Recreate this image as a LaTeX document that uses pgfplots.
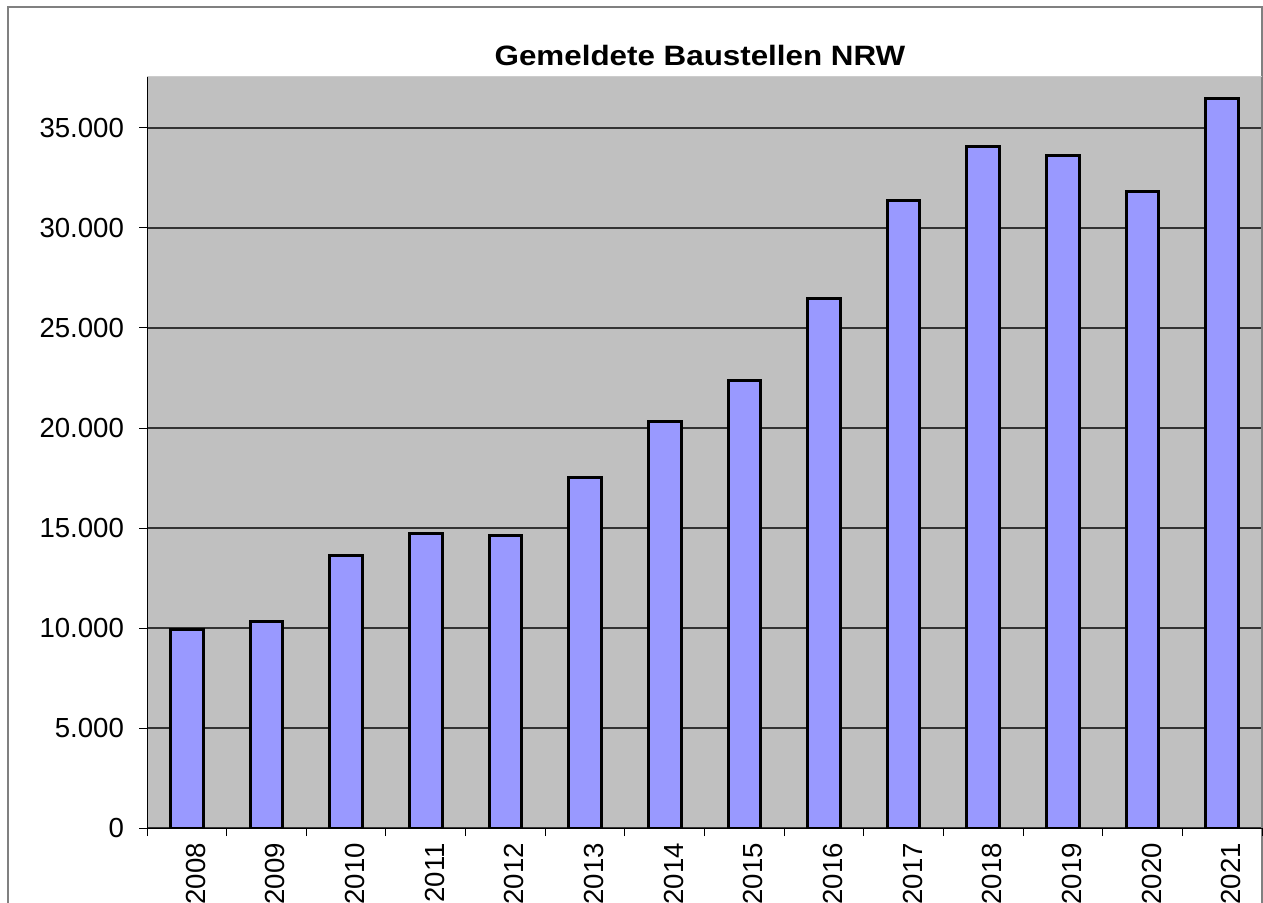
\documentclass[border=0pt]{standalone}
\usepackage{fontspec}
\setmainfont{Liberation Sans}
\usepackage{pgfplots}
\pgfplotsset{compat=1.18}
\definecolor{plotbg}{HTML}{C0C0C0}
\definecolor{barfill}{HTML}{9999FF}
\definecolor{framegray}{HTML}{808080}
\begin{document}
\begin{tikzpicture}
% outer chart frame
\draw[framegray, line width=0.6pt] (4pt,-470pt) -- (4pt,-3.5pt) -- (631pt,-3.5pt) -- (631pt,-470pt);
\node[anchor=base, inner sep=0pt, font=\fontsize{14}{16}\selectfont\bfseries] at (350pt,-33pt) {\scalebox{1.12}[1]{Gemeldete Baustellen NRW}};
\begin{axis}[
  at={(73.5pt,-414pt)}, anchor=south west,
  width=557.5pt, height=375.5pt, scale only axis,
  xmin=-0.5, xmax=13.5, ymin=0, ymax=37550,
  ybar, bar width=0.41,
  axis x line*=bottom, axis y line*=left,
  axis line style={-, black, line width=0.5pt},
  axis background/.style={fill=plotbg},
  xtick={0,...,13},
  xticklabels={2008,2009,2010,2011,2012,2013,2014,2015,2016,2017,2018,2019,2020,2021},
  minor xtick={-0.5,0.5,...,13.5},
  major x tick style={draw=none},
  minor tick length=4pt, major tick length=4pt,
  tick align=outside,
  tick style={black, line width=0.5pt},
  ytick={0,5000,...,35000},
  scaled y ticks=false,
  ymajorgrids,
  grid style={black!80, line width=0.6pt},
  /pgf/number format/assume math mode=true,
  /pgf/number format/fixed,
  /pgf/number format/1000 sep={.},
  ticklabel style={font=\fontsize{13.8}{16}\selectfont},
  xticklabel style={rotate=90, anchor=east, yshift=-4.5pt},
  yticklabel style={anchor=east, xshift=-4pt},
]
\addplot[fill=barfill, draw=black, line width=1.5pt] coordinates {
  (0,9930) (1,10350) (2,13650) (3,14720) (4,14620) (5,17550) (6,20330)
  (7,22380) (8,26450) (9,31380) (10,34050) (11,33630) (12,31830) (13,36480)
};
\draw[black!20, line width=0.5pt] (rel axis cs:0,1) -- (rel axis cs:1,1);
\draw[framegray, line width=0.6pt] (rel axis cs:1,0) -- (rel axis cs:1,1);
\end{axis}
\pgfresetboundingbox
\useasboundingbox (0pt,0pt) rectangle (631.5pt,-451.5pt);
\end{tikzpicture}
\end{document}
